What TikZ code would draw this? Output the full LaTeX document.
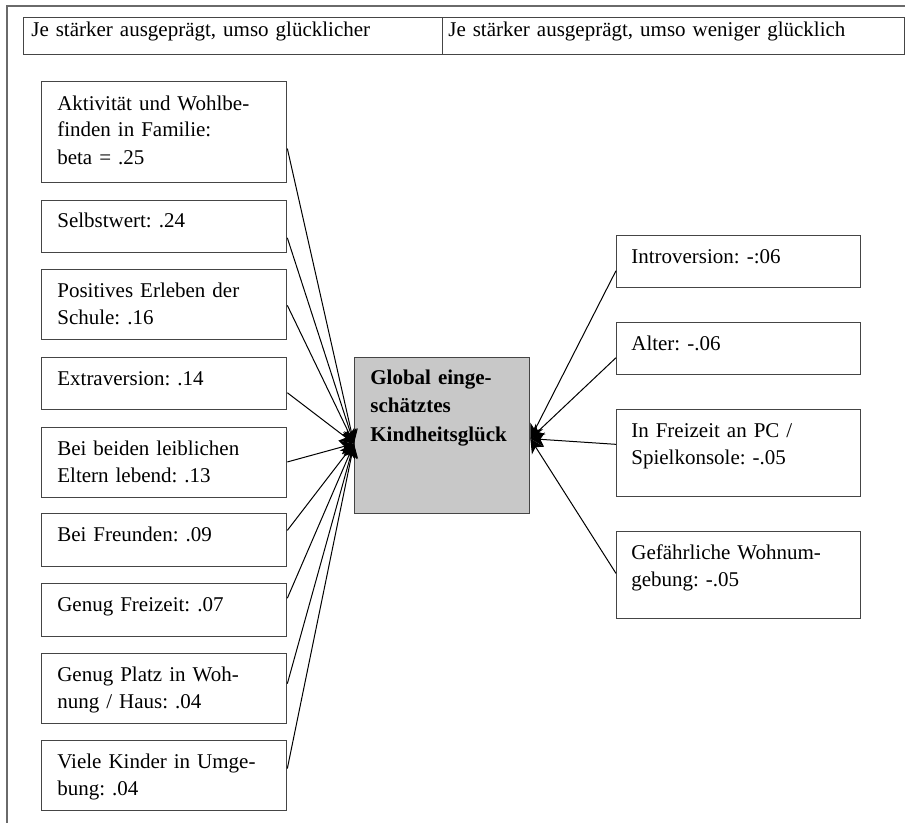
\documentclass[tikz,border=0pt]{standalone}
\usepackage{fontspec}
\setmainfont{Liberation Serif}
\usetikzlibrary{calc,arrows.meta}
\definecolor{rahmen}{HTML}{454545}
\definecolor{kern}{HTML}{C8C8C8}
\frenchspacing

\begin{document}
\begin{tikzpicture}[x=0.6pt,y=-0.6pt,
		feld/.style={draw=rahmen,line width=0.8pt,rectangle,anchor=north west,inner sep=0pt,minimum width=147pt},
		zelle/.style={draw=rahmen,line width=0.8pt,rectangle,anchor=north west,inner sep=0pt,minimum height=22.2pt},
		txt/.style={anchor=base west,inner sep=0pt,align=left,text width=128pt,font={\fontsize{12.6}{16.2}\selectfont}},
		pfeil/.style={line width=0.6pt,-{Stealth[length=8.5pt,width=8.5pt,inset=2.5pt]}}]
			\useasboundingbox (0,0) rectangle (905,823);
			\draw[draw=rahmen!80,line width=0.9pt] (7,823) -- (7,6) -- (905,6);
			
			% Kopfzeile
			\node[zelle,minimum width=251.4pt](hl)at(23,17) {};
			\node[zelle,minimum width=277.2pt](hr)at(442,17) {};
			\node[txt,text width=240pt](hlt)at(31,36) {Je stärker ausgeprägt, umso glücklicher};
			\node[txt,text width=270pt](hrt)at(448,36) {Je stärker ausgeprägt, umso weniger glücklich};
			
			% linke Seite
			\node[feld,minimum height=60.6pt](a1)at(41,81) {};
			\node[feld,minimum height=31.2pt](a2)at(41,200) {};
			\node[feld,minimum height=42pt](a3)at(41,269) {};
			\node[feld,minimum height=31.2pt](a4)at(41,357) {};
			\node[feld,minimum height=42pt](a5)at(41,427) {};
			\node[feld,minimum height=31.8pt](a6)at(41,513) {};
			\node[feld,minimum height=31.8pt](a7)at(41,583) {};
			\node[feld,minimum height=42pt](a8)at(41,653) {};
			\node[feld,minimum height=42pt](a9)at(41,740) {};
			\node[txt](a1t)at(57,110) {Aktivität und Wohlbe-\\finden in Familie:\\beta = .25};
			\node[txt](a2t)at(57,227) {Selbstwert: .24};
			\node[txt](a3t)at(57,297) {Positives Erleben der\\Schule: .16};
			\node[txt](a4t)at(57,385) {Extraversion: .14};
			\node[txt](a5t)at(57,455) {Bei beiden leiblichen\\Eltern lebend: .13};
			\node[txt](a6t)at(57,541) {Bei Freunden: .09};
			\node[txt](a7t)at(57,611) {Genug Freizeit: .07};
			\node[txt](a8t)at(57,681) {Genug Platz in Woh-\\nung / Haus: .04};
			\node[txt](a9t)at(57,768) {Viele Kinder in Umge-\\bung: .04};
			
			% Mitte
			\node[feld,fill=kern,minimum width=105pt,minimum height=93.6pt](c)at(354,357) {};
			\node[txt,text width=95pt,font={\fontsize{12.6}{17.1}\selectfont\bfseries}](ct)at(370,384) {Global einge-\\schätztes\\Kindheitsglück};
			
			% rechte Seite
			\node[feld,minimum width=146.4pt,minimum height=31.2pt](b1)at(616,235) {};
			\node[feld,minimum width=146.4pt,minimum height=31.2pt](b2)at(616,322) {};
			\node[feld,minimum width=146.4pt,minimum height=52.2pt](b3)at(616,409) {};
			\node[feld,minimum width=146.4pt,minimum height=52.2pt](b4)at(616,531) {};
			\node[txt](b1t)at(631,263) {Introversion: -:06};
			\node[txt](b2t)at(631,350) {Alter: -.06};
			\node[txt](b3t)at(631,437) {In Freizeit an PC /\\Spielkonsole: -.05};
			\node[txt](b4t)at(631,559) {Gefährliche Wohnum-\\gebung: -.05};
			
			\draw[pfeil]($(a1.north east)!0.66!(a1.south east)$) -- ([yshift=-4.8pt]c.west);
			\draw[pfeil]($(a2.north east)!0.71!(a2.south east)$) -- ([yshift=-4.8pt]c.west);
			\draw[pfeil]($(a3.north east)!0.51!(a3.south east)$) -- ([yshift=-4.8pt]c.west);
			\draw[pfeil]($(a4.north east)!0.67!(a4.south east)$) -- ([yshift=-4.8pt]c.west);
			\draw[pfeil]($(a5.north east)!0.49!(a5.south east)$) -- ([yshift=-4.8pt]c.west);
			\draw[pfeil]($(a6.north east)!0.32!(a6.south east)$) -- ([yshift=-4.8pt]c.west);
			\draw[pfeil]($(a7.north east)!0.28!(a7.south east)$) -- ([yshift=-4.8pt]c.west);
			\draw[pfeil]($(a8.north east)!0.43!(a8.south east)$) -- ([yshift=-4.8pt]c.west);
			\draw[pfeil]($(a9.north east)!0.40!(a9.south east)$) -- ([yshift=-4.8pt]c.west);
			\draw[pfeil]($(b1.north west)!0.67!(b1.south west)$) -- ([yshift=-1.8pt]c.east);
			\draw[pfeil]($(b2.north west)!0.67!(b2.south west)$) -- ([yshift=-1.8pt]c.east);
			\draw[pfeil]($(b3.north west)!0.40!(b3.south west)$) -- ([yshift=-1.8pt]c.east);
			\draw[pfeil]($(b4.north west)!0.48!(b4.south west)$) -- ([yshift=-1.8pt]c.east);
		\end{tikzpicture}
\end{document}
